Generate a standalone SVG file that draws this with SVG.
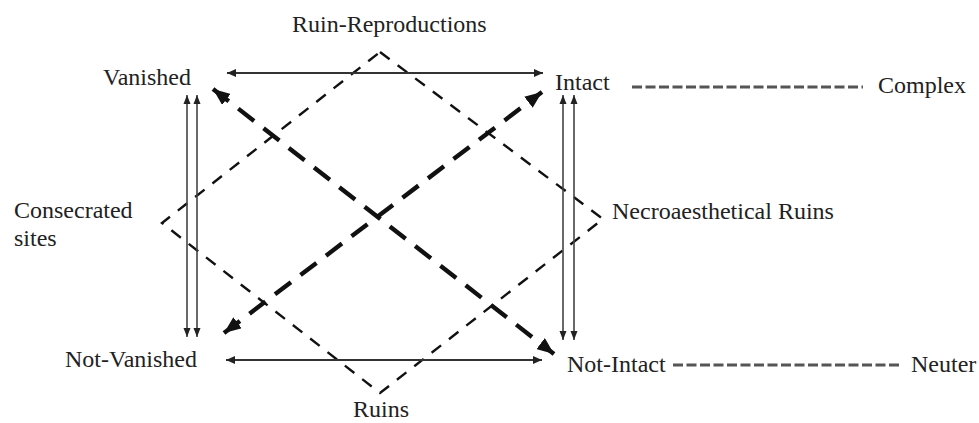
<svg xmlns="http://www.w3.org/2000/svg" width="979" height="423" viewBox="0 0 979 423">
<defs>
<style>
text{font-family:"Liberation Serif","Times New Roman",serif;font-size:24px;fill:#222}
.h{stroke:#333;stroke-width:1.8;fill:none}
.v{stroke:#444;stroke-width:1.6;fill:none}
.dia{stroke:#111;stroke-width:2.4;stroke-dasharray:12 10;fill:none}
.x{stroke:#111;stroke-width:4.4;stroke-dasharray:20 12;fill:none}
.g{stroke:#555;stroke-width:3;stroke-dasharray:10 3.5;fill:none}
</style>
<marker id="ah" markerUnits="userSpaceOnUse" markerWidth="10" markerHeight="8" refX="9" refY="4" orient="auto-start-reverse"><path d="M0,0 L9,4 L0,8 z" fill="#222"/></marker>
<marker id="av" markerUnits="userSpaceOnUse" markerWidth="10" markerHeight="8" refX="9" refY="4" orient="auto-start-reverse"><path d="M0,0.5 L9,4 L0,7.5 z" fill="#222"/></marker>
<marker id="ax" markerUnits="userSpaceOnUse" markerWidth="18" markerHeight="14" refX="17" refY="7" orient="auto-start-reverse"><path d="M0,0 L17,7 L0,14 z" fill="#111"/></marker>
</defs>
<g id="connectors">
<path class="dia" d="M380,52 L603,219 L380,393 L162,223 Z"/>
<line class="h" x1="227" y1="73" x2="543" y2="73" marker-start="url(#ah)" marker-end="url(#ah)"/>
<line class="h" x1="226" y1="360" x2="542" y2="360" marker-start="url(#ah)" marker-end="url(#ah)"/>
<line class="v" x1="187" y1="95" x2="187" y2="337" marker-start="url(#av)" marker-end="url(#av)"/>
<line class="v" x1="197" y1="95" x2="197" y2="337" marker-start="url(#av)" marker-end="url(#av)"/>
<line class="v" x1="563" y1="95" x2="563" y2="340" marker-start="url(#av)" marker-end="url(#av)"/>
<line class="v" x1="574" y1="95" x2="574" y2="340" marker-start="url(#av)" marker-end="url(#av)"/>
<line class="x" x1="213" y1="89" x2="554" y2="354" marker-start="url(#ax)" marker-end="url(#ax)"/>
<line class="x" x1="224" y1="333" x2="542" y2="92" marker-start="url(#ax)" marker-end="url(#ax)"/>
<line class="g" x1="632" y1="87" x2="863" y2="87"/>
<line class="g" x1="673" y1="365" x2="900" y2="365"/>
</g>
<g id="ruin-reproductions"><text x="292" y="32">Ruin-Reproductions</text></g>
<g id="vanished"><text x="103" y="85">Vanished</text></g>
<g id="intact"><text x="555" y="90">Intact</text></g>
<g id="complex"><text x="878" y="93">Complex</text></g>
<g id="consecrated"><text x="14" y="218">Consecrated</text><text x="14" y="246">sites</text></g>
<g id="necro"><text x="612" y="219">Necroaesthetical Ruins</text></g>
<g id="not-vanished"><text x="65" y="367">Not-Vanished</text></g>
<g id="not-intact"><text x="567" y="372">Not-Intact</text></g>
<g id="neuter"><text x="911" y="372">Neuter</text></g>
<g id="ruins"><text x="353" y="417">Ruins</text></g>
</svg>
